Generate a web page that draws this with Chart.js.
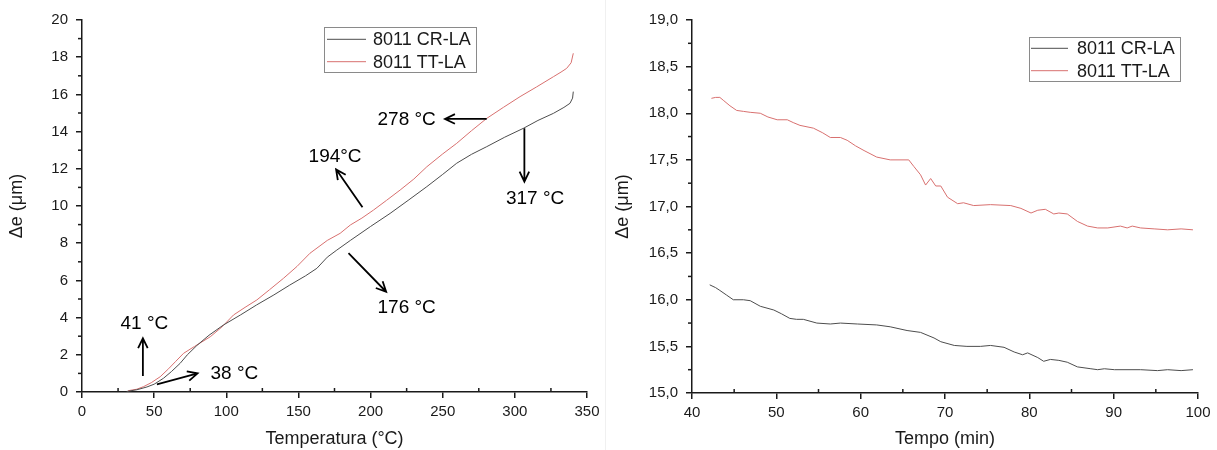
<!DOCTYPE html>
<html>
<head>
<meta charset="utf-8">
<script src="https://cdn.jsdelivr.net/npm/chart.js@4.4.1/dist/chart.umd.min.js"></script>
<style>
  body { margin: 0; background: #fff; }
  .wrap { position: absolute; top: 0; height: 450px; }
  #left { left: 0; width: 605px; }
  #right { left: 605px; width: 612px; border-left: 1px solid #f0f0f0; box-sizing: border-box; }
</style>
</head>
<body>
<div class="wrap" id="left"><canvas id="chart1" width="605" height="450"></canvas></div>
<div class="wrap" id="right"><canvas id="chart2" width="611" height="450"></canvas></div>
<script>
// left chart: expansion vs temperature
const crTemp = [31, 38, 45, 50, 56.5, 62, 68, 73, 79.6, 88, 98, 110, 121, 133, 144, 155, 162.8, 170, 176.6, 186, 200, 213.5, 226, 239, 250, 259.7, 270, 280.5, 293, 306, 316, 326.7, 334, 338.2, 340, 340.5];
const crDe = [0.03, 0.12, 0.27, 0.42, 0.74, 1.1, 1.54, 2.0, 2.5, 3.05, 3.6, 4.15, 4.68, 5.22, 5.75, 6.25, 6.65, 7.25, 7.63, 8.15, 8.9, 9.6, 10.3, 11.04, 11.7, 12.3, 12.78, 13.19, 13.7, 14.18, 14.6, 14.98, 15.3, 15.52, 15.8, 16.15];
const ttTemp = [32, 38, 42.7, 48, 54.2, 60, 65, 70.4, 78, 88.9, 97, 105, 113, 121.2, 130, 139.6, 149, 158, 170, 178.9, 186, 194, 202, 211, 220.5, 230, 239, 250, 259.7, 270, 280.5, 292, 303.6, 315, 326.7, 332, 335.9, 339, 340.5];
const ttDe = [0.07, 0.15, 0.29, 0.5, 0.82, 1.25, 1.65, 2.08, 2.45, 2.97, 3.5, 4.14, 4.55, 4.95, 5.5, 6.11, 6.75, 7.46, 8.15, 8.53, 8.98, 9.35, 9.78, 10.3, 10.86, 11.45, 12.11, 12.8, 13.37, 14.05, 14.71, 15.3, 15.88, 16.4, 16.95, 17.2, 17.4, 17.7, 18.21];

// right chart: expansion vs time
const crTime = [42.1, 42.8, 43.3, 44.1, 44.9, 46.1, 46.9, 48.1, 49.7, 50.6, 51.6, 52.4, 53.2, 54.8, 56.4, 57.6, 59.6, 61.9, 63.5, 65.5, 67.1, 68.7, 69.5, 71.1, 72.6, 74.2, 75.4, 77.0, 78.2, 79.2, 79.8, 81.0, 81.7, 82.5, 83.5, 84.5, 85.7, 87.3, 88.1, 88.9, 90.1, 93.2, 95.2, 96.4, 98.0, 99.4];
const crDeTime = [16.16, 16.13, 16.1, 16.05, 16.0, 16.0, 15.99, 15.93, 15.89, 15.85, 15.8, 15.79, 15.79, 15.75, 15.74, 15.75, 15.74, 15.73, 15.71, 15.67, 15.65, 15.59, 15.55, 15.51, 15.5, 15.5, 15.51, 15.49, 15.44, 15.41, 15.43, 15.38, 15.34, 15.36, 15.35, 15.33, 15.28, 15.26, 15.25, 15.26, 15.25, 15.25, 15.24, 15.25, 15.24, 15.25];
const ttTime = [42.3, 42.8, 43.3, 43.7, 44.5, 45.3, 46.1, 46.9, 48.1, 49.0, 50.1, 51.3, 52.0, 52.8, 54.4, 55.5, 56.4, 57.6, 58.4, 59.4, 60.4, 61.9, 63.5, 65.7, 66.3, 67.1, 67.7, 68.3, 68.9, 69.5, 70.3, 71.5, 72.2, 73.4, 75.4, 77.8, 79.0, 80.2, 81.0, 81.9, 82.9, 83.5, 84.5, 85.7, 86.9, 88.1, 89.3, 90.8, 91.6, 92.2, 93.2, 94.8, 96.4, 98.0, 99.4];
const ttDeTime = [18.16, 18.17, 18.17, 18.14, 18.08, 18.03, 18.02, 18.01, 18.0, 17.96, 17.93, 17.93, 17.9, 17.87, 17.84, 17.79, 17.74, 17.74, 17.71, 17.65, 17.6, 17.53, 17.5, 17.5, 17.43, 17.34, 17.23, 17.3, 17.22, 17.22, 17.1, 17.03, 17.04, 17.01, 17.02, 17.01, 16.98, 16.93, 16.96, 16.97, 16.92, 16.93, 16.92, 16.84, 16.79, 16.77, 16.77, 16.79, 16.77, 16.79, 16.77, 16.76, 16.75, 16.76, 16.75];

const seriesNames = ['8011 CR-LA', '8011 TT-LA'];

// temperature callouts on the left chart, in data units
const notes = [
    { text: '41 °C', at: [43.2, 3.66], from: [42.2, 0.86], to: [42.2, 2.89] },
    { text: '38 °C', at: [105.6, 1.0], from: [51.9, 0.41], to: [80.1, 1.0] },
    { text: '176 °C', at: [225, 4.52], from: [184.7, 7.46], to: [210.8, 5.39] },
    { text: '194°C', at: [175.4, 12.63], from: [194.4, 9.93], to: [176.1, 11.97] },
    { text: '278 °C', at: [225, 14.62], from: [280.5, 14.68], to: [251.6, 14.68] },
    { text: '317 °C', at: [314, 10.38], from: [306.6, 14.18], to: [306.6, 11.31] }
];

const FONT = 'Liberation Sans, Arial, sans-serif';
const INK = '#1a1a1a';
const GREY_LINE = '#4d4d4d';
const RED_LINE = '#d8706f';

function zip(xs, ys) {
    return xs.map((x, i) => ({ x: x, y: ys[i] }));
}

// small legend box drawn inside the plot
const boxLegend = {
    id: 'boxLegend',
    afterDraw(chart, args, o) {
        const ctx = chart.ctx;
        const a = chart.chartArea;
        const x = Math.round(a.left + o.dx), y = Math.round(a.top + o.dy);
        ctx.save();
        ctx.strokeStyle = '#8a8a8a';
        ctx.lineWidth = 1;
        ctx.strokeRect(x + 0.5, y + 0.5, o.w, o.h);
        ctx.font = '18px ' + FONT;
        ctx.textBaseline = 'middle';
        chart.data.datasets.forEach((ds, i) => {
            const ry = y + o.rowStart + i * o.rowGap;
            ctx.strokeStyle = ds.borderColor;
            ctx.lineWidth = 1;
            ctx.beginPath();
            ctx.moveTo(x + o.lineX, ry);
            ctx.lineTo(x + o.lineX + o.lineLen, ry);
            ctx.stroke();
            ctx.fillStyle = INK;
            ctx.fillText(ds.label, x + o.textX, ry + 1);
        });
        ctx.restore();
    }
};

// minor ticks between the major ones
const minorTicks = {
    id: 'minorTicks',
    afterDraw(chart, args, o) {
        const ctx = chart.ctx;
        ctx.save();
        ctx.strokeStyle = INK;
        ctx.lineWidth = 1.5;
        const xs = chart.scales.x, ys = chart.scales.y;
        for (let v = xs.min + o.xStep; v < xs.max; v += 2 * o.xStep) {
            const px = xs.getPixelForValue(v);
            ctx.beginPath();
            ctx.moveTo(px, ys.bottom);
            ctx.lineTo(px, ys.bottom - 4);
            ctx.stroke();
        }
        for (let v = ys.min + o.yStep; v < ys.max; v += 2 * o.yStep) {
            const py = ys.getPixelForValue(v);
            ctx.beginPath();
            ctx.moveTo(xs.left, py);
            ctx.lineTo(xs.left - 4, py);
            ctx.stroke();
        }
        ctx.restore();
    }
};

// arrows and labels for the transition temperatures
const callouts = {
    id: 'callouts',
    afterDraw(chart) {
        const ctx = chart.ctx;
        const xs = chart.scales.x, ys = chart.scales.y;
        ctx.save();
        ctx.strokeStyle = '#000';
        ctx.fillStyle = '#000';
        ctx.lineWidth = 1.8;
        ctx.font = '19px ' + FONT;
        ctx.textAlign = 'center';
        ctx.textBaseline = 'middle';
        notes.forEach(n => {
            const x1 = xs.getPixelForValue(n.from[0]), y1 = ys.getPixelForValue(n.from[1]);
            const x2 = xs.getPixelForValue(n.to[0]), y2 = ys.getPixelForValue(n.to[1]);
            const ang = Math.atan2(y2 - y1, x2 - x1);
            ctx.beginPath();
            ctx.moveTo(x1, y1);
            ctx.lineTo(x2, y2);
            ctx.moveTo(x2 - 11 * Math.cos(ang - 0.45), y2 - 11 * Math.sin(ang - 0.45));
            ctx.lineTo(x2, y2);
            ctx.lineTo(x2 - 11 * Math.cos(ang + 0.45), y2 - 11 * Math.sin(ang + 0.45));
            ctx.stroke();
            ctx.fillText(n.text, xs.getPixelForValue(n.at[0]), ys.getPixelForValue(n.at[1]));
        });
        ctx.restore();
    }
};

function axis(min, max, step, title, fmt, fitSize, horizontal) {
    return {
        type: 'linear',
        min: min,
        max: max,
        border: { display: true, color: INK, width: 1.5 },
        grid: { display: true, drawOnChartArea: false, drawTicks: true, tickLength: 6, color: INK, lineWidth: 1.5 },
        ticks: {
            stepSize: step,
            color: INK,
            padding: horizontal ? 5 : 8,
            maxRotation: 0,
            font: { family: FONT, size: 15 },
            callback: fmt
        },
        title: {
            display: true,
            text: title,
            color: INK,
            font: { family: FONT, size: 18 },
            padding: horizontal ? { top: 0, bottom: 0 } : { top: 6, bottom: 0 }
        },
        afterFit: function(scale) {
            if (horizontal) scale.height = fitSize; else scale.width = fitSize;
        }
    };
}

function lineSet(label, pts, color) {
    return {
        label: label,
        data: pts,
        borderColor: color,
        borderWidth: 1,
        pointRadius: 0,
        tension: 0,
        fill: false
    };
}

document.addEventListener('DOMContentLoaded', function() {
    Chart.defaults.font.family = FONT;

    new Chart(document.getElementById('chart1').getContext('2d'), {
        type: 'line',
        data: {
            datasets: [
                lineSet(seriesNames[0], zip(crTemp, crDe), GREY_LINE),
                lineSet(seriesNames[1], zip(ttTemp, ttDe), RED_LINE)
            ]
        },
        options: {
            responsive: false,
            animation: false,
            devicePixelRatio: 1,
            layout: { padding: { left: 0, top: 20, right: 18, bottom: 0 } },
            plugins: {
                legend: { display: false },
                tooltip: { enabled: false },
                boxLegend: { dx: 242, dy: 7, w: 152, h: 45, rowStart: 12.3, rowGap: 22.4, lineX: 3, lineLen: 39, textX: 49 },
                minorTicks: { xStep: 25, yStep: 1 }
            },
            scales: {
                x: axis(0, 350, 50, 'Temperatura (°C)', v => v, 58, true),
                y: axis(0, 20, 2, 'Δe (μm)', v => v, 82, false)
            }
        },
        plugins: [boxLegend, minorTicks, callouts]
    });

    new Chart(document.getElementById('chart2').getContext('2d'), {
        type: 'line',
        data: {
            datasets: [
                lineSet(seriesNames[0], zip(crTime, crDeTime), GREY_LINE),
                lineSet(seriesNames[1], zip(ttTime, ttDeTime), RED_LINE)
            ]
        },
        options: {
            responsive: false,
            animation: false,
            devicePixelRatio: 1,
            layout: { padding: { left: 0, top: 20, right: 19, bottom: 0 } },
            plugins: {
                legend: { display: false },
                tooltip: { enabled: false },
                boxLegend: { dx: 337, dy: 17, w: 151, h: 44, rowStart: 11.3, rowGap: 22.4, lineX: 2, lineLen: 37, textX: 48 },
                minorTicks: { xStep: 5, yStep: 0.25 }
            },
            scales: {
                x: axis(40, 100, 10, 'Tempo (min)', v => v, 57, true),
                y: axis(15, 19, 0.5, 'Δe (μm)', v => v.toFixed(1).replace('.', ','), 86, false)
            }
        },
        plugins: [boxLegend, minorTicks]
    });
});
</script>
</body>
</html>
